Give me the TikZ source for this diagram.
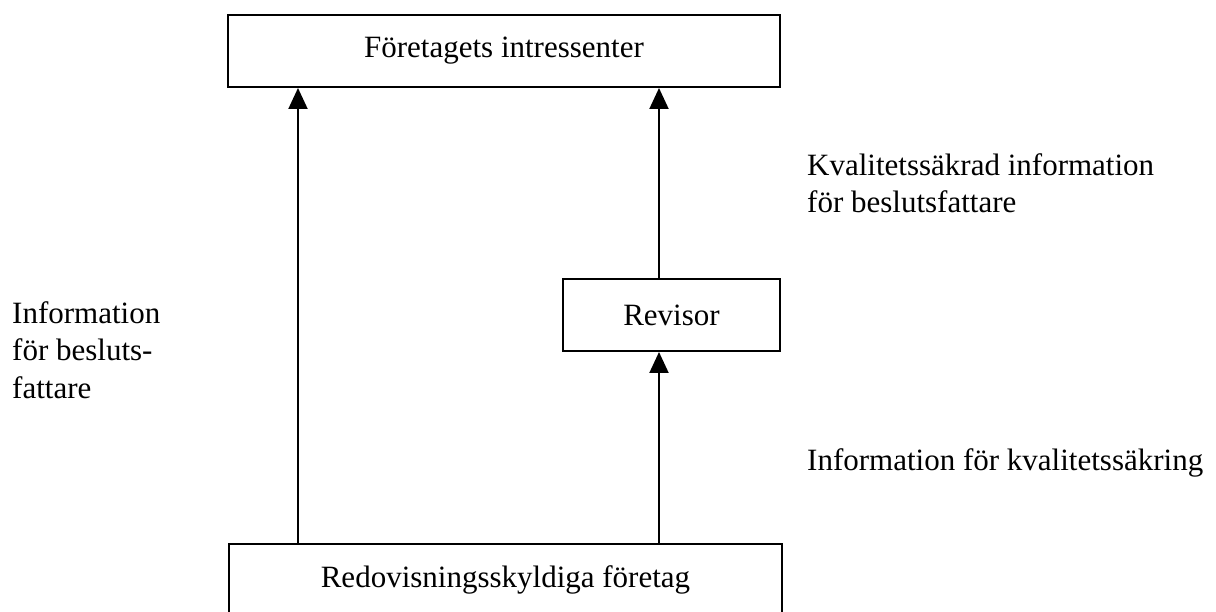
\documentclass[tikz,border=0pt]{standalone}
\usepackage{fontspec}
\setmainfont{Liberation Serif}
\usetikzlibrary{arrows.meta}
\begin{document}
\begin{tikzpicture}[x=1pt,y=-1pt,
  box/.style={draw=black,line width=2pt,rectangle,inner sep=0pt,align=center},
  lbl/.style={inner sep=0pt,align=left,anchor=north west},
  arr/.style={line width=2pt,-{Triangle[length=21pt,width=19pt]}},
  font=\fontsize{31}{37.5}\selectfont]
\useasboundingbox (0,0) rectangle (1216,612);
\node[box,minimum width=552pt,minimum height=72pt] (top) at (504,51) {Företagets intressenter};
\node[box,minimum width=217pt,minimum height=72pt] (rev) at (671.5,315) {Revisor};
\node[box,minimum width=553pt,minimum height=72pt] (bot) at (505.5,580) {Redovisningsskyldiga företag};
\coordinate (la) at (298,0);
\coordinate (ra) at (659,0);
\draw[arr] (bot.north -| la) -- (top.south -| la);
\draw[arr] (bot.north -| ra) -- (rev.south -| ra);
\draw[arr] (rev.north -| ra) -- (top.south -| ra);
\node[lbl] (l1) at (12,301) {Information\\för besluts-\\fattare};
\node[lbl] (l2) at (807,153) {Kvalitetssäkrad information\\för beslutsfattare};
\node[lbl] (l3) at (807,448) {Information för kvalitetssäkring};
\end{tikzpicture}
\end{document}
